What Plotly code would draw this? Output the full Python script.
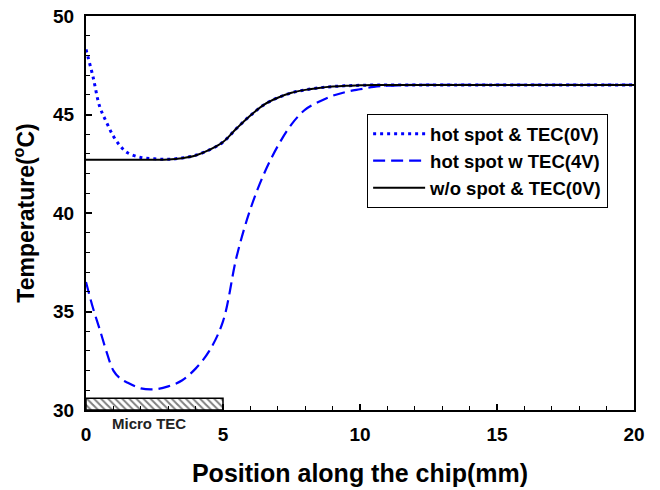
import plotly.graph_objects as go

# ---- data ----
position_mm = [0, 0.25, 0.5, 0.75, 1, 1.25, 1.5, 2, 2.5, 3, 3.5, 4, 4.5, 5, 5.5, 6,
               6.5, 7, 7.5, 8, 8.5, 9, 9.5, 10, 10.5, 11, 12, 13, 14, 15, 16, 17, 18, 19, 20]

temp_hotspot_tec0v = [48.3, 46.95, 45.4, 44.6, 43.9, 43.4, 43.07, 42.82, 42.75, 42.73, 42.79, 42.93,
                      43.2, 43.6, 44.3, 44.95, 45.5, 45.85, 46.1, 46.25, 46.35, 46.42, 46.46, 46.48,
                      46.5, 46.5, 46.5, 46.5, 46.5, 46.5, 46.5, 46.5, 46.5, 46.5, 46.5]

temp_hotspot_tec4v = [36.5, 35.2, 34.1, 32.95, 32.0, 31.6, 31.4, 31.1, 31.05, 31.2, 31.5, 32.1,
                      33.0, 34.5, 37.8, 40.2, 42.0, 43.4, 44.5, 45.25, 45.65, 45.95, 46.15, 46.28,
                      46.4, 46.46, 46.5, 46.5, 46.5, 46.5, 46.5, 46.5, 46.5, 46.5, 46.5]

temp_nospot_tec0v = [42.7, 42.7, 42.7, 42.7, 42.7, 42.7, 42.7, 42.7, 42.7, 42.71, 42.78, 42.92,
                     43.2, 43.6, 44.3, 44.95, 45.5, 45.85, 46.1, 46.25, 46.35, 46.42, 46.46, 46.48,
                     46.5, 46.5, 46.5, 46.5, 46.5, 46.5, 46.5, 46.5, 46.5, 46.5, 46.5]

series_names = ["hot spot & TEC(0V)", "hot spot w TEC(4V)", "w/o spot & TEC(0V)"]

tec_start, tec_end = 0, 5          # Micro TEC region (mm)
tec_base, tec_height = 30, 0.6     # drawn bar at the bottom of the plot
tec_label = "Micro TEC"

x_ticks = [0, 5, 10, 15, 20]
y_ticks = [30, 35, 40, 45, 50]

FONT = "Liberation Sans, Arial, sans-serif"

fig = go.Figure()

fig.add_trace(go.Bar(
    x=[(tec_start + tec_end) / 2], y=[tec_height], base=[tec_base],
    width=[tec_end - tec_start], showlegend=False, hoverinfo="skip",
    marker=dict(color="white", line=dict(color="black", width=1.5),
                pattern=dict(shape="\\", fgcolor="black", bgcolor="white",
                             size=5, solidity=0.4)),
))

fig.add_trace(go.Scatter(x=position_mm, y=temp_hotspot_tec0v, mode="lines",
                         name=series_names[0], line=dict(color="#0000FF", width=3, dash="3px,4px", shape="spline")))
fig.add_trace(go.Scatter(x=position_mm, y=temp_hotspot_tec4v, mode="lines",
                         name=series_names[1], line=dict(color="#0000FF", width=2.2, dash="12px,6px", shape="spline")))
fig.add_trace(go.Scatter(x=position_mm, y=temp_nospot_tec0v, mode="lines",
                         name=series_names[2], line=dict(color="black", width=2, shape="spline")))

fig.add_annotation(x=(tec_start + tec_end) / 2 - 0.2, y=0, xref="x", yref="paper",
                   yanchor="top", yshift=-3, showarrow=False, text=tec_label,
                   font=dict(family=FONT, size=15, color="#222", weight="bold"))

axis_common = dict(
    showgrid=False, zeroline=False, showline=True, linecolor="black", linewidth=2,
    mirror=True, ticks="inside", tickcolor="black", ticklen=6, tickwidth=1.5,
    automargin=False,
    tickfont=dict(family=FONT, size=19, color="black", weight="bold"),
)

fig.update_xaxes(range=[0, 20], tickvals=x_ticks, ticklabelstandoff=6,
                 minor=dict(dtick=1, ticks="inside", ticklen=4, tickcolor="black", tickwidth=1),
                 title=dict(text="Position along the chip(mm)", standoff=21,
                            font=dict(family=FONT, size=25, color="black", weight="bold")),
                 **axis_common)
fig.update_yaxes(range=[30, 50], tickvals=y_ticks, ticklabelstandoff=6,
                 minor=dict(dtick=1, ticks="inside", ticklen=4, tickcolor="black", tickwidth=1),
                 title=dict(text="Temperature(<sup>o</sup>C)", standoff=12,
                            font=dict(family=FONT, size=23, color="black", weight="bold")),
                 **axis_common)

fig.update_layout(
    width=660, height=490,
    margin=dict(l=86, r=26, t=16, b=80),
    plot_bgcolor="white", paper_bgcolor="white",
    legend=dict(x=0.513, y=0.751, xanchor="left", yanchor="top",
                bordercolor="black", borderwidth=1, bgcolor="white",
                font=dict(family=FONT, size=18.5, color="black", weight="bold"),
                tracegroupgap=0, itemwidth=52),
    showlegend=True,
    barmode="overlay",
)

fig.write_html("out.html", config={"displayModeBar": False},
               post_script="document.body.style.margin='0';document.body.style.overflow='hidden';")
